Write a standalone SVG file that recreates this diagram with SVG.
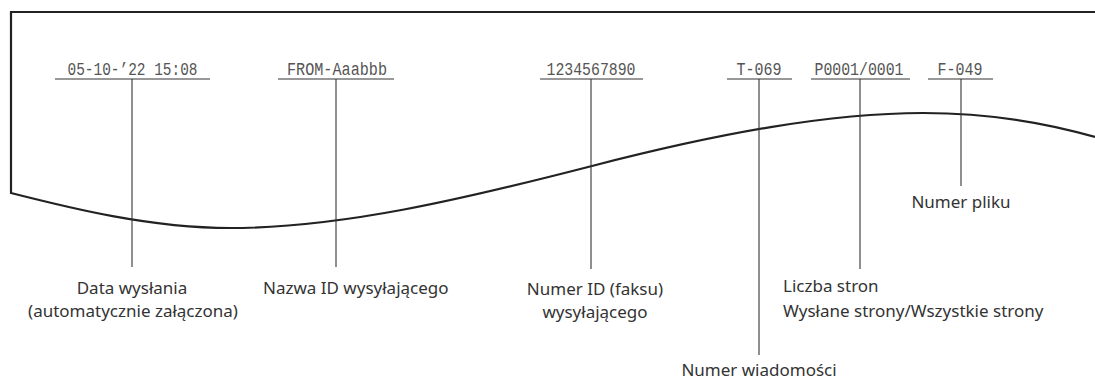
<svg xmlns="http://www.w3.org/2000/svg" width="1095" height="379" viewBox="0 0 1095 379">
<style>
.frame{fill:none;stroke:#222;stroke-width:2.2}
.ln{fill:none;stroke:#333;stroke-width:1.1}
.mono{font-family:"Liberation Mono","Courier New",monospace;font-size:19px;fill:#555}
.lbl{font-family:"Noto Sans","Open Sans",sans-serif;font-size:17px;fill:#333}
</style>
<rect width="1095" height="379" fill="#fff"/>
<g id="paper">
<path class="frame" d="M1095,12 H11 V193 C70,208 150,228 230,228 C340,228 460,200 592,166 C720,133 830,113 923,113 C990,113 1050,124 1095,137"/>
</g>
<g id="connectors">
<line class="ln" x1="55" y1="79" x2="210" y2="79"/>
<line class="ln" x1="132" y1="79" x2="132" y2="267"/>
<line class="ln" x1="278" y1="79" x2="394" y2="79"/>
<line class="ln" x1="336" y1="79" x2="336" y2="267"/>
<line class="ln" x1="540" y1="79" x2="643" y2="79"/>
<line class="ln" x1="591" y1="79" x2="591" y2="269"/>
<line class="ln" x1="727" y1="79" x2="792" y2="79"/>
<line class="ln" x1="759" y1="79" x2="759" y2="355"/>
<line class="ln" x1="811" y1="79" x2="910" y2="79"/>
<line class="ln" x1="860" y1="79" x2="860" y2="269"/>
<line class="ln" x1="928" y1="79" x2="993" y2="79"/>
<line class="ln" x1="961" y1="79" x2="961" y2="186"/>
</g>
<g id="date">
<text class="mono" x="132.5" y="75" text-anchor="middle" textLength="130" lengthAdjust="spacingAndGlyphs">05-10-’22 15:08</text>
<text class="lbl" x="132" y="294" text-anchor="middle">Data wysłania</text>
<text class="lbl" x="133" y="317" text-anchor="middle">(automatycznie załączona)</text>
</g>
<g id="sender-name">
<text class="mono" x="337" y="75" text-anchor="middle" textLength="100" lengthAdjust="spacingAndGlyphs">FROM-Aaabbb</text>
<text class="lbl" x="263" y="294">Nazwa ID wysyłającego</text>
</g>
<g id="sender-number">
<text class="mono" x="591" y="75" text-anchor="middle" textLength="89" lengthAdjust="spacingAndGlyphs">1234567890</text>
<text class="lbl" x="595" y="295" text-anchor="middle">Numer ID (faksu)</text>
<text class="lbl" x="595" y="318" text-anchor="middle">wysyłającego</text>
</g>
<g id="message-number">
<text class="mono" x="759" y="75" text-anchor="middle" textLength="45" lengthAdjust="spacingAndGlyphs">T-069</text>
<text class="lbl" x="759" y="376" text-anchor="middle">Numer wiadomości</text>
</g>
<g id="pages">
<text class="mono" x="859" y="75" text-anchor="middle" textLength="89" lengthAdjust="spacingAndGlyphs">P0001/0001</text>
<text class="lbl" x="783" y="292">Liczba stron</text>
<text class="lbl" x="783" y="317">Wysłane strony/Wszystkie strony</text>
</g>
<g id="file-number">
<text class="mono" x="960" y="75" text-anchor="middle" textLength="45" lengthAdjust="spacingAndGlyphs">F-049</text>
<text class="lbl" x="961" y="208" text-anchor="middle">Numer pliku</text>
</g>
</svg>
